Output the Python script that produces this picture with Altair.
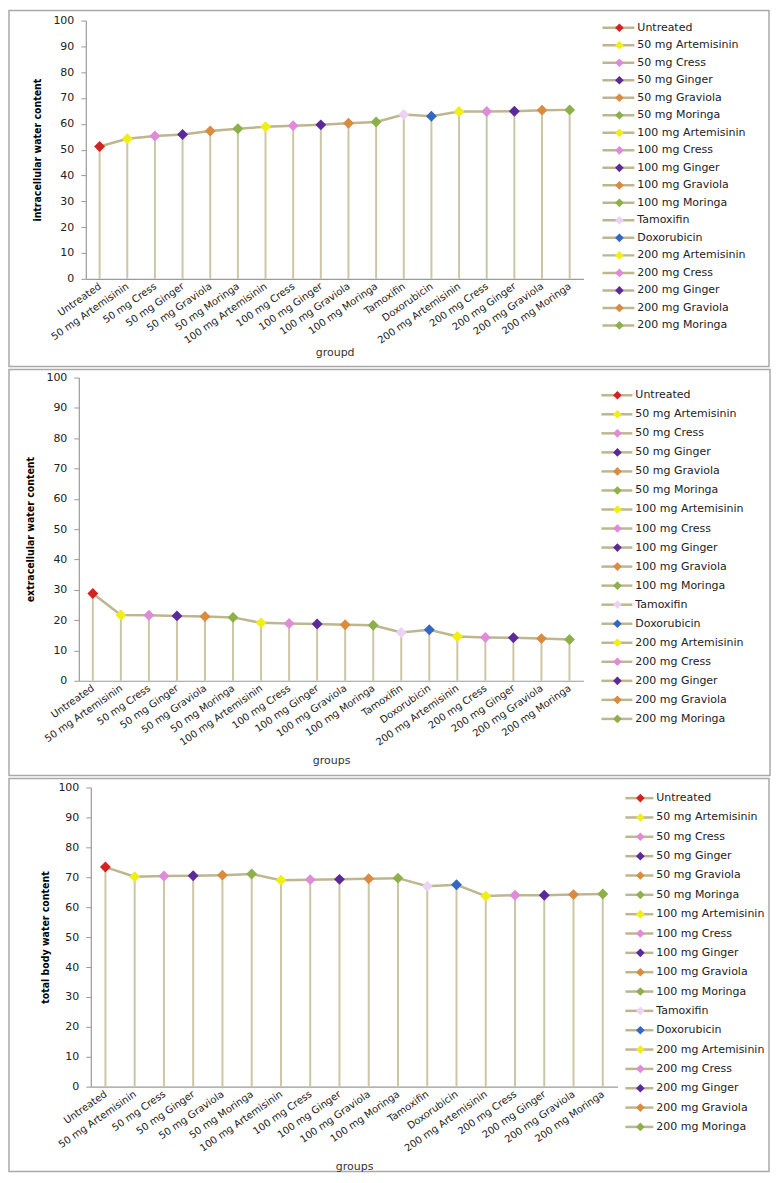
import altair as alt
import pandas as pd

groups = ["Untreated", "50 mg Artemisinin", "50 mg Cress", "50 mg Ginger", "50 mg Graviola",
          "50 mg Moringa", "100 mg Artemisinin", "100 mg Cress", "100 mg Ginger", "100 mg Graviola",
          "100 mg Moringa", "Tamoxifin", "Doxorubicin", "200 mg Artemisinin", "200 mg Cress",
          "200 mg Ginger", "200 mg Graviola", "200 mg Moringa"]
marker_colors = ["#d42222", "#f0ee12", "#e08ad8", "#5b2a98", "#d98b40", "#8db04a",
                 "#f0ee12", "#e08ad8", "#5b2a98", "#d98b40", "#8db04a",
                 "#ecd2f4", "#3566c2",
                 "#f0ee12", "#e08ad8", "#5b2a98", "#d98b40", "#8db04a"]
intracellular = [51.2, 54.2, 55.3, 55.9, 57.2, 58.1, 58.9, 59.3, 59.6, 60.2, 60.7,
                 63.6, 62.9, 64.8, 64.8, 64.9, 65.3, 65.4]
extracellular = [28.8, 21.7, 21.6, 21.4, 21.2, 20.9, 19.1, 18.9, 18.7, 18.5, 18.3,
                 15.9, 16.8, 14.6, 14.3, 14.2, 13.9, 13.6]
total_body = [73.4, 70.2, 70.4, 70.5, 70.7, 71.1, 69.0, 69.2, 69.3, 69.5, 69.7,
              67.0, 67.5, 63.7, 64.0, 64.0, 64.2, 64.4]
y_ticks = list(range(0, 101, 10))

FONT = "DejaVu Sans"
NARROW = "Liberation Sans Narrow, DejaVu Sans Condensed, sans-serif"
AX = "#9a9a9a"
LINE = "#bdb68e"
DROP = "#ccc6a6"
FRAME = "#a9a9a9"


def panel(values, ytitle, xtitle, g):
    df = pd.DataFrame({"group": groups, "value": values, "color": marker_colors,
                       "order": list(range(len(groups)))})
    base = alt.Chart(df)
    x = alt.X("group:N", sort=groups, scale=alt.Scale(type="point", padding=0.5),
              axis=alt.Axis(title=xtitle, labelAngle=325, labelAlign="right",
                            labelBaseline="middle", labelFont=FONT, labelFontSize=10,
                            labelColor="#222", labelPadding=6, ticks=False,
                            domainColor=AX, domainWidth=1.2, labelOverlap=False,
                            titleFont=FONT, titleFontSize=11, titleFontWeight="normal",
                            titleColor="#333", titleY=g["xty"], titleX=g["pw"] / 2,
                            titleAlign="center", titleBaseline="middle"))
    y = alt.Y("value:Q", scale=alt.Scale(domain=[0, 100], nice=False),
              axis=alt.Axis(values=y_ticks, title=ytitle, grid=False, tickSize=5,
                            tickColor=AX, domainColor=AX, domainWidth=1.2,
                            labelFont=FONT, labelFontSize=11, labelColor="#222",
                            labelPadding=7, titleFont=NARROW, titleFontSize=10.5,
                            titleFontWeight="bold", titleColor="#000",
                            titleX=g["ytx"], titleY=g["ph"] / 2, titleAngle=270,
                            titleAlign="center", titleBaseline="middle"))
    drops = base.mark_rule(color=DROP, strokeWidth=2).encode(x=x, y=y, y2=alt.datum(0))
    line = base.mark_line(color=LINE, strokeWidth=2.5).encode(x=x, y=y, order="order:Q")
    pts = base.mark_point(shape="diamond", filled=True, size=120, opacity=1).encode(
        x=x, y=y, color=alt.Color("color:N", scale=None))
    plot = alt.layer(drops, line, pts).properties(width=g["pw"], height=g["ph"])

    frame = alt.Chart(alt.Data(values=[{"a": 1}])).mark_rect(
        fill="white", fillOpacity=0, stroke=FRAME, strokeWidth=1.5).encode(
        x=alt.value(0), x2=alt.value(g["fw"]), y=alt.value(-g["ft"]), y2=alt.value(g["fb"])
    ).properties(width=g["sw"], height=g["ph"])

    ldf = pd.DataFrame({"group": groups, "color": marker_colors})
    ly = alt.Y("group:N", sort=groups, axis=None,
               scale=alt.Scale(type="point", padding=g["lpad"]))
    lrule = alt.Chart(ldf).mark_rule(color=LINE, strokeWidth=2.5).encode(
        x=alt.value(g["l0"]), x2=alt.value(g["l1"]), y=ly)
    lpt = alt.Chart(ldf).mark_point(shape="diamond", filled=True, size=75, opacity=1).encode(
        x=alt.value(g["ld"]), y=ly, color=alt.Color("color:N", scale=None))
    ltxt = alt.Chart(ldf).mark_text(align="left", baseline="middle", font=FONT,
                                    fontSize=11, color="#222").encode(
        x=alt.value(g["lt"]), y=ly, text="group:N")
    lw = g["fw"] - g["sw"] - g["pw"] - 2
    legend = alt.layer(lrule, lpt, ltxt).properties(width=lw, height=g["lh"])
    return alt.hconcat(frame, plot, legend, spacing=0, bounds="flush")


g1 = dict(sw=77, pw=499, ph=259, fw=762, ft=10, fb=347, xty=74, ytx=-48,
          l0=19, l1=51, ld=36, lt=54, lpad=0.415, lh=313)
g2 = dict(sw=70, pw=506, ph=304, fw=763, ft=8, fb=399, xty=80, ytx=-48,
          l0=18, l1=49, ld=34, lt=52, lpad=0.93, lh=360)
g3 = dict(sw=82, pw=528, ph=300, fw=762, ft=9, fb=385, xty=80, ytx=-45,
          l0=8, l1=36, ld=23, lt=39, lpad=0.55, lh=351)

p1 = panel(intracellular, "intracellular water content", "groupd", g1)
p2 = panel(extracellular, "extracellular water content", "groups", g2)
p3 = panel(total_body, "total body water content", "groups", g3)

chart = alt.vconcat(p1, p2, p3, spacing=1).properties(padding=0).configure_view(stroke=None)
chart.save("out.html", embed_options={"renderer": "svg", "actions": False})
